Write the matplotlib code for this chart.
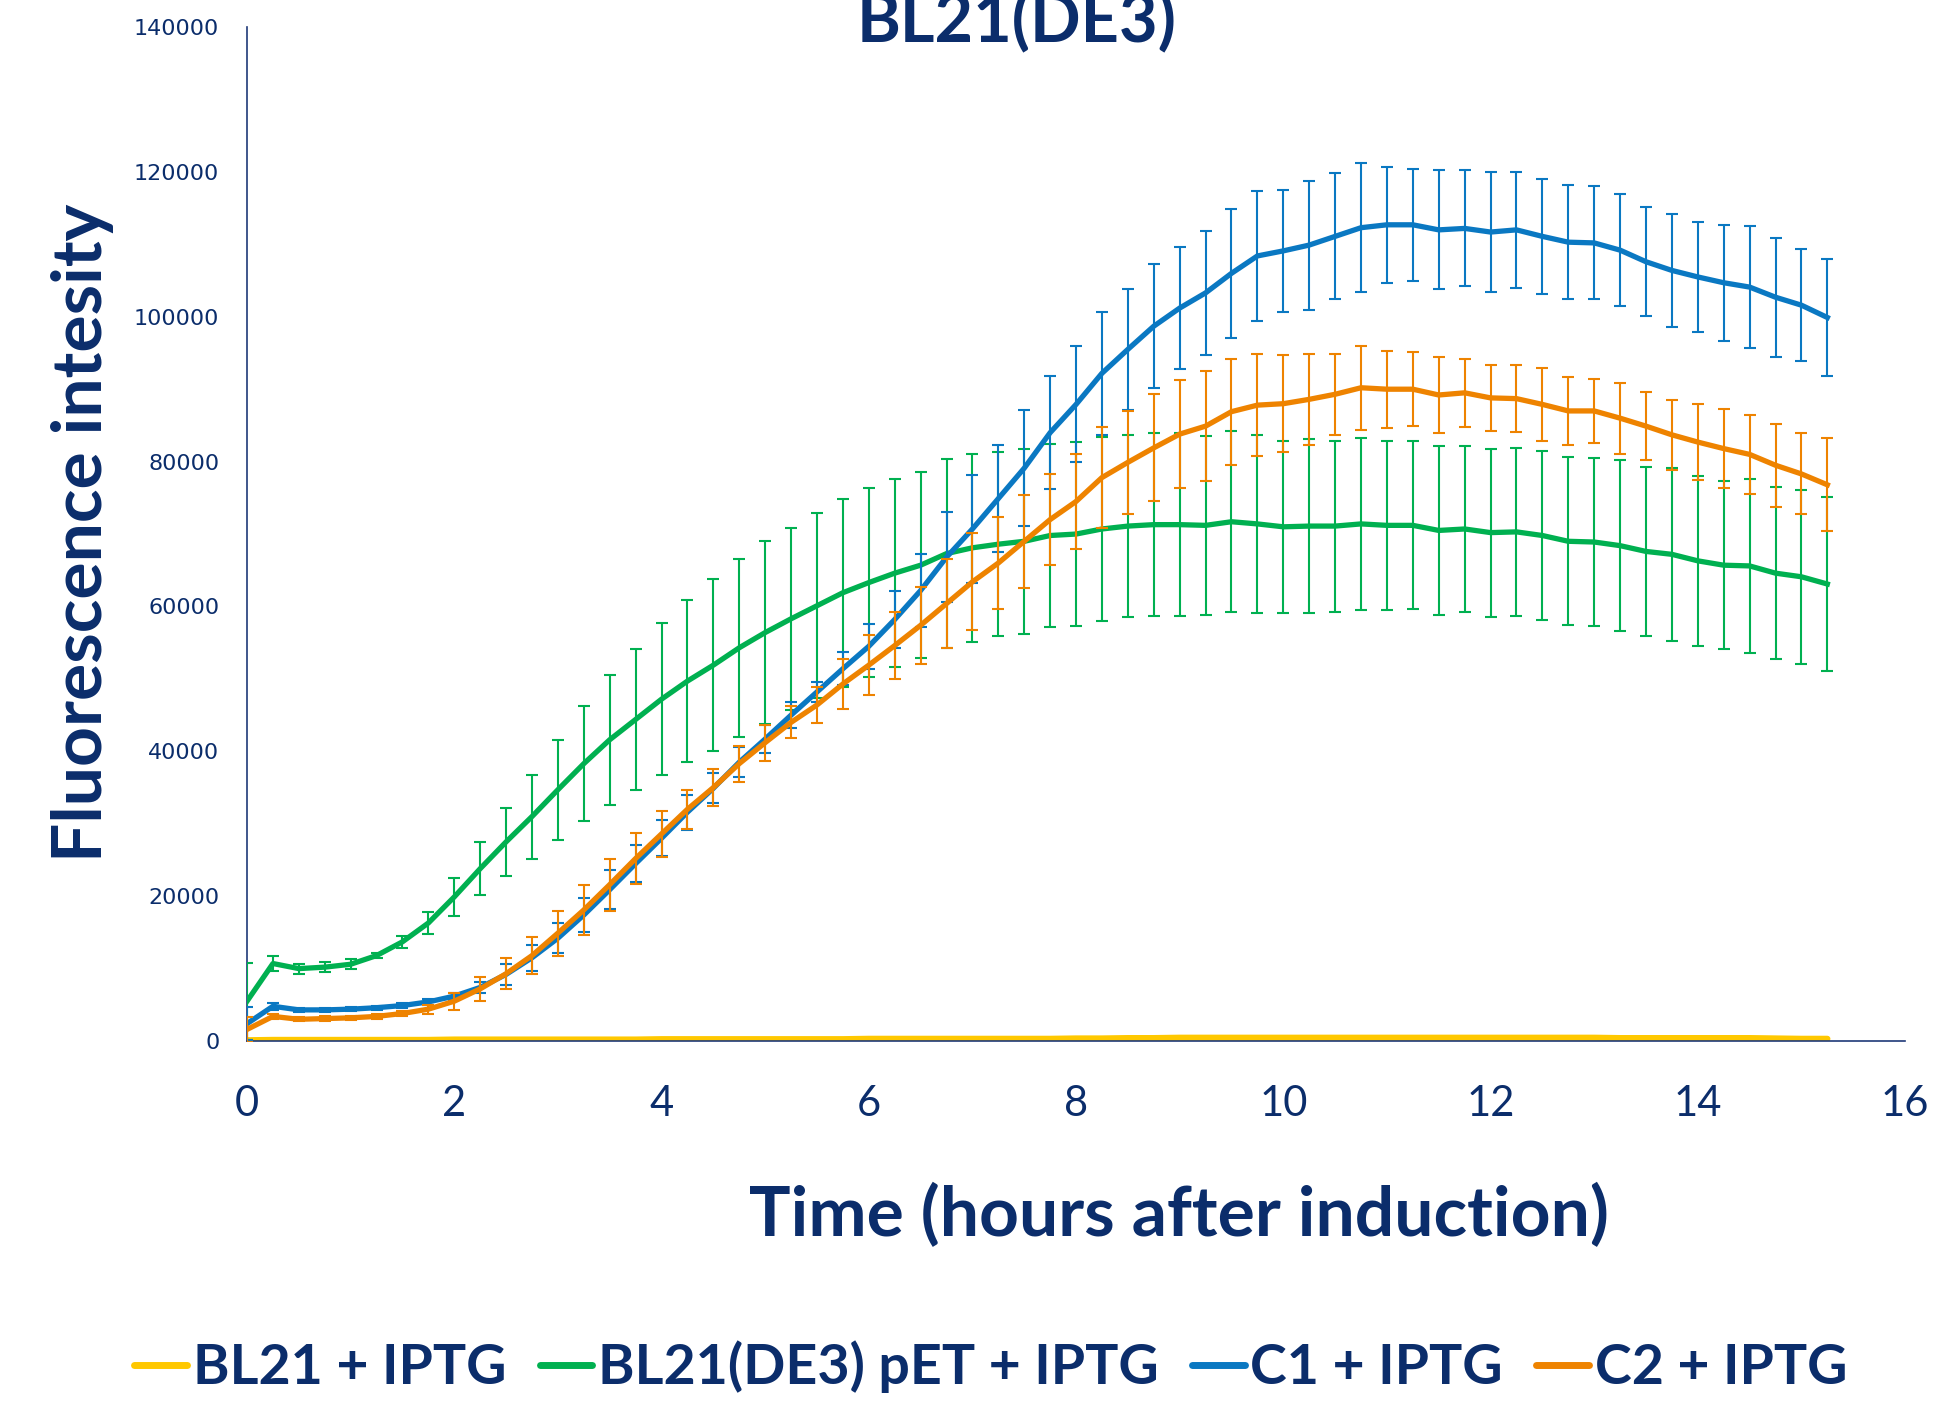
import matplotlib
matplotlib.use("Agg")
import matplotlib.pyplot as plt
from matplotlib.lines import Line2D
import numpy as np

# time points, every 15 min (hours after induction)
hours = np.arange(62) * 0.25

bl21 = [100, 150, 150, 150, 150, 150, 150, 150,
        200, 200, 200, 200, 200, 200, 200, 200,
        250, 250, 250, 250, 250, 250, 250, 250,
        300, 300, 300, 300, 300, 300, 300, 300,
        350, 350, 400, 400, 450, 450, 450, 450,
        450, 450, 450, 450, 450, 450, 450, 450,
        450, 450, 450, 450, 450, 400, 400, 400,
        400, 400, 400, 350, 300, 300]

pet = [5500, 10700, 10000, 10200, 10600, 11800, 13700, 16300,
       19900, 23800, 27500, 31000, 34700, 38300, 41600, 44400,
       47200, 49700, 51900, 54300, 56400, 58300, 60100, 61900,
       63300, 64600, 65700, 67300, 68100, 68600, 69000, 69800,
       70000, 70700, 71100, 71300, 71300, 71200, 71700, 71400,
       71000, 71100, 71100, 71400, 71200, 71200, 70500, 70700,
       70200, 70300, 69800, 69000, 68900, 68400, 67600, 67200,
       66300, 65700, 65600, 64600, 64100, 63100]
pet_err = [5300, 1000, 700, 650, 670, 400, 800, 1500,
           2600, 3700, 4700, 5800, 6900, 7900, 9000, 9700,
           10500, 11200, 11900, 12300, 12600, 12600, 12800, 13000,
           13100, 13000, 12800, 13100, 13000, 12700, 12800, 12700,
           12700, 12700, 12600, 12600, 12600, 12400, 12500, 12300,
           11900, 12000, 11800, 11900, 11700, 11600, 11700, 11500,
           11600, 11600, 11600, 11600, 11600, 11800, 11700, 11900,
           11700, 11600, 12000, 11900, 12000, 12000]

c1 = [2400, 4800, 4300, 4300, 4400, 4600, 4900, 5400,
      6200, 7400, 9200, 11500, 14200, 17400, 20900, 24500,
      28000, 31600, 34900, 38500, 41700, 45000, 48200, 51400,
      54500, 58200, 62200, 66800, 70700, 74900, 79100, 84000,
      87900, 92200, 95500, 98700, 101200, 103300, 106000, 108400,
      109100, 109900, 111100, 112300, 112700, 112700, 112000, 112200,
      111700, 112000, 111100, 110300, 110200, 109200, 107600, 106400,
      105500, 104700, 104100, 102700, 101600, 99900]
c1_err = [2300, 500, 300, 300, 300, 300, 300, 400,
          500, 800, 1400, 1800, 2100, 2400, 2700, 2600,
          2500, 2400, 2100, 2100, 2000, 1750, 1400, 2300,
          3100, 3900, 5100, 6200, 7400, 7400, 8000, 7800,
          8000, 8500, 8400, 8600, 8400, 8600, 8900, 9000,
          8400, 8900, 8700, 8900, 8000, 7700, 8200, 8000,
          8300, 8000, 7900, 7900, 7800, 7700, 7500, 7800,
          7600, 8000, 8400, 8200, 7700, 8100]

c2 = [1600, 3400, 3000, 3100, 3200, 3400, 3800, 4400,
      5500, 7200, 9300, 11800, 14900, 18100, 21600, 25200,
      28600, 32000, 35000, 38300, 41200, 44000, 46400, 49300,
      51900, 54600, 57400, 60400, 63400, 66000, 69000, 72000,
      74500, 77800, 79900, 81900, 83800, 84900, 86900, 87800,
      88000, 88600, 89300, 90200, 90000, 90000, 89200, 89500,
      88800, 88700, 87900, 87000, 87000, 86000, 84900, 83700,
      82700, 81800, 81000, 79500, 78300, 76800]
c2_err = [1700, 400, 300, 300, 300, 300, 400, 600,
          1200, 1700, 2100, 2500, 3100, 3400, 3600, 3500,
          3200, 2700, 2600, 2500, 2500, 2200, 2500, 3400,
          4100, 4600, 5300, 6100, 6700, 6300, 6400, 6300,
          6600, 7000, 7100, 7400, 7500, 7600, 7300, 7000,
          6700, 6300, 5600, 5800, 5300, 5100, 5200, 4700,
          4600, 4600, 5000, 4700, 4400, 4900, 4700, 4800,
          5200, 5400, 5500, 5700, 5600, 6400]

NAVY = "#0B2D6B"
YELLOW = "#FFC800"
GREEN = "#00B050"
BLUE = "#0A78C2"
ORANGE = "#EE8300"
BOLD = ["Lato", "DejaVu Sans"]

fig = plt.figure(figsize=(19.39, 14.03), dpi=100)
ax = fig.add_axes([0.1274, 0.258, 0.8551, 0.7227])

ax.plot(hours, bl21, color=YELLOW, lw=4.5, solid_capstyle="round", zorder=2)

series = [(pet, pet_err, GREEN, 3),
          (c1, c1_err, BLUE, 4),
          (c2, c2_err, ORANGE, 5)]
for vals, err, col, z in series:
    ax.errorbar(hours, vals, yerr=err, color=col, lw=3.8, elinewidth=1.5,
                capsize=4, capthick=1.5, zorder=z)

ax.set_xlim(0, 16)
ax.set_ylim(0, 140000)
ax.set_xticks(range(0, 17, 2))
ax.set_yticks(range(0, 140001, 20000))
for s in ["top", "right"]:
    ax.spines[s].set_visible(False)
ax.spines["left"].set_color("#1F3A78")
ax.spines["bottom"].set_color("#1F3A78")
ax.spines["left"].set_linewidth(1.2)
ax.spines["bottom"].set_linewidth(1.2)
ax.tick_params(axis="both", length=0)
ax.tick_params(axis="x", pad=32, labelsize=30, labelcolor=NAVY)
ax.tick_params(axis="y", pad=20, labelsize=16, labelcolor=NAVY)
for lab in ax.get_xticklabels():
    lab.set_family(BOLD)

fig.text(0.5245, 0.9695, "BL21(DE3)", family=BOLD, weight="bold",
         fontsize=48, color=NAVY, ha="center", va="baseline")
fig.text(0.6078, 1 - 1236 / 1403, "Time (hours after induction)", family=BOLD,
         weight="bold", fontsize=50, color=NAVY, ha="center", va="baseline")
fig.text(0.0425, 0.620, "Fluorescence intesity", family=BOLD, weight="bold",
         fontsize=50, color=NAVY, ha="center", va="center", rotation=90)

names = ["BL21 + IPTG", "BL21(DE3) pET + IPTG", "C1 + IPTG", "C2 + IPTG"]
colors = [YELLOW, GREEN, BLUE, ORANGE]
handles = [Line2D([], [], color=c, lw=5, solid_capstyle="round") for c in colors]
leg = fig.legend(handles, names, loc="center", bbox_to_anchor=(0.511, 0.0257),
                 ncol=4, frameon=False, handlelength=0.95, handletextpad=0.1,
                 columnspacing=0.6, prop={"family": BOLD, "weight": "bold", "size": 40})
for t in leg.get_texts():
    t.set_color(NAVY)

fig.savefig("out.png", dpi=100)
